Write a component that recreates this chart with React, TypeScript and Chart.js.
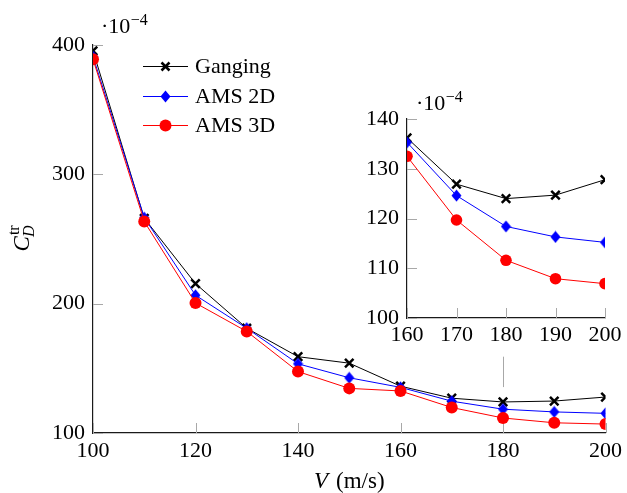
import React, { useEffect, useRef } from "react";
import { Chart, registerables } from "chart.js";

Chart.register(...registerables);

const velocities = [100, 110, 120, 130, 140, 150, 160, 170, 180, 190, 200];
const ganging = [395.5, 266, 215.5, 181, 159, 154, 136.2, 126.9, 124.0, 124.7, 127.8];
const ams2d = [391, 266.5, 206.5, 181, 153.5, 142.7, 135.3, 124.6, 118.4, 116.3, 115.2];
const ams3d = [389, 263.5, 200.5, 178.5, 147.5, 134.5, 132.5, 119.7, 111.6, 107.9, 106.9];
const seriesNames = ["Ganging", "AMS 2D", "AMS 3D"];
const seriesColors = ["#000000", "#0000ff", "#ff0000"];
const mainXTicks = [100, 120, 140, 160, 180, 200];
const mainYTicks = [100, 200, 300, 400];
const insetXTicks = [160, 170, 180, 190, 200];
const insetYTicks = [100, 110, 120, 130, 140];
const insetStart = 160;

const FONT = '"Liberation Serif", "Times New Roman", serif';
const FS = 22;

function makeDiamond(): HTMLCanvasElement {
  const c = document.createElement("canvas");
  c.width = 11;
  c.height = 13;
  const g = c.getContext("2d")!;
  g.fillStyle = "#0000ff";
  g.beginPath();
  g.moveTo(5.5, 0.5);
  g.lineTo(10.5, 6.5);
  g.lineTo(5.5, 12.5);
  g.lineTo(0.5, 6.5);
  g.closePath();
  g.fill();
  return c;
}

function drawTimesTen(ctx: CanvasRenderingContext2D, x: number, baseline: number) {
  ctx.save();
  ctx.fillStyle = "#000";
  ctx.textAlign = "left";
  ctx.textBaseline = "alphabetic";
  ctx.font = `${FS}px ${FONT}`;
  ctx.fillText("·10", x, baseline);
  const w = ctx.measureText("·10").width;
  ctx.font = `16px ${FONT}`;
  ctx.fillText("−4", x + w + 0.5, baseline - 8);
  ctx.restore();
}

function drawInsideTicks(chart: any, xt: number[], yt: number[]) {
  const { ctx, chartArea, scales } = chart;
  const x = scales.x;
  const y = scales.y;
  ctx.save();
  ctx.strokeStyle = "#a8a8a8";
  ctx.lineWidth = 1;
  xt.forEach((v) => {
    const px = Math.round(x.getPixelForValue(v)) + 0.5;
    ctx.beginPath();
    ctx.moveTo(px, chartArea.bottom);
    ctx.lineTo(px, chartArea.bottom - 10);
    ctx.stroke();
  });
  yt.forEach((v) => {
    const py = Math.round(y.getPixelForValue(v)) + 0.5;
    ctx.beginPath();
    ctx.moveTo(chartArea.left, py);
    ctx.lineTo(chartArea.left + 10, py);
    ctx.stroke();
  });
  ctx.restore();
}

function drawLegendMarker(ctx: CanvasRenderingContext2D, i: number, cx: number, cy: number, diamond: HTMLCanvasElement) {
  ctx.save();
  if (i === 0) {
    ctx.strokeStyle = "#000";
    ctx.lineWidth = 2.5;
    ctx.beginPath();
    ctx.moveTo(cx - 4, cy - 4);
    ctx.lineTo(cx + 4, cy + 4);
    ctx.moveTo(cx + 4, cy - 4);
    ctx.lineTo(cx - 4, cy + 4);
    ctx.stroke();
  } else if (i === 1) {
    ctx.drawImage(diamond, cx - diamond.width / 2, cy - diamond.height / 2);
  } else {
    ctx.fillStyle = "#ff0000";
    ctx.beginPath();
    ctx.arc(cx, cy, 6, 0, Math.PI * 2);
    ctx.fill();
  }
  ctx.restore();
}

function buildDatasets(xs: number[], series: number[][], diamond: HTMLCanvasElement, radius: number) {
  const styles: any[] = ["crossRot", diamond, "circle"];
  return series.map((vals, i) => ({
    label: seriesNames[i],
    data: xs.map((v, k) => ({ x: v, y: vals[k] })),
    borderColor: seriesColors[i],
    backgroundColor: seriesColors[i],
    borderWidth: 1,
    pointStyle: styles[i],
    pointRadius: i === 0 ? 6 : radius,
    pointBorderWidth: i === 0 ? 2.5 : 0,
    pointBorderColor: seriesColors[i],
    pointBackgroundColor: seriesColors[i],
    order: 3 - i,
    tension: 0,
  }));
}

function axisOpts(min: number, max: number, step: number, fixed: (s: any) => void, padding: number) {
  return {
    type: "linear" as const,
    min,
    max,
    ticks: {
      stepSize: step,
      color: "#000",
      font: { family: FONT, size: FS },
      padding,
      maxRotation: 0,
      autoSkip: false,
    },
    grid: { display: false, drawTicks: false },
    border: { display: true, color: "#1a1a1a", width: 1.2 },
    afterFit: fixed,
  };
}

export default function App() {
  const mainRef = useRef<HTMLCanvasElement>(null);
  const insetRef = useRef<HTMLCanvasElement>(null);

  useEffect(() => {
    const diamond = makeDiamond();

    const mainPlugin = {
      id: "mainDecor",
      beforeDatasetsDraw(chart: any) {
        drawInsideTicks(chart, mainXTicks, mainYTicks);
        const { ctx, scales } = chart;
        const px = Math.round(scales.x.getPixelForValue(180)) + 0.5;
        ctx.save();
        ctx.strokeStyle = "#a8a8a8";
        ctx.lineWidth = 1;
        ctx.beginPath();
        ctx.moveTo(px, scales.y.getPixelForValue(159));
        ctx.lineTo(px, scales.y.getPixelForValue(135.5));
        ctx.stroke();
        ctx.restore();
      },
      afterDraw(chart: any) {
        const { ctx, chartArea } = chart;
        drawTimesTen(ctx, 101, 33);
        // x title
        ctx.save();
        ctx.fillStyle = "#000";
        ctx.textBaseline = "alphabetic";
        ctx.font = `italic 23px ${FONT}`;
        const vW = ctx.measureText("V").width;
        ctx.font = `23px ${FONT}`;
        const rest = "(m/s)";
        const rW = ctx.measureText(rest).width;
        const gap = 8;
        const cx = (chartArea.left + chartArea.right) / 2;
        const startX = cx - (vW + gap + rW) / 2;
        ctx.font = `italic 23px ${FONT}`;
        ctx.fillText("V", startX, 488);
        ctx.font = `23px ${FONT}`;
        ctx.fillText(rest, startX + vW + gap, 488);
        ctx.restore();
        // y title
        ctx.save();
        ctx.translate(29, 238);
        ctx.rotate(-Math.PI / 2);
        ctx.fillStyle = "#000";
        ctx.textBaseline = "alphabetic";
        ctx.font = `italic 23px ${FONT}`;
        const cW = ctx.measureText("C").width;
        ctx.font = `16px ${FONT}`;
        const trW = ctx.measureText("tr").width;
        ctx.font = `italic 16px ${FONT}`;
        const dW = ctx.measureText("D").width;
        const total = cW + Math.max(trW, dW);
        const sx = -total / 2;
        ctx.font = `italic 23px ${FONT}`;
        ctx.fillText("C", sx, 0);
        ctx.font = `16px ${FONT}`;
        ctx.fillText("tr", sx + cW + 1, -10);
        ctx.font = `italic 16px ${FONT}`;
        ctx.fillText("D", sx + cW - 1, 5);
        ctx.restore();
        // legend
        const rowY = [66, 96, 125];
        ctx.save();
        seriesNames.forEach((name, i) => {
          const y = rowY[i];
          ctx.strokeStyle = seriesColors[i];
          ctx.lineWidth = 1;
          ctx.beginPath();
          ctx.moveTo(143, y + 0.5);
          ctx.lineTo(188, y + 0.5);
          ctx.stroke();
          drawLegendMarker(ctx, i, 165.5, y + 0.5, diamond);
          ctx.fillStyle = "#000";
          ctx.font = `${FS}px ${FONT}`;
          ctx.textBaseline = "alphabetic";
          ctx.fillText(name, 195, y + 7);
        });
        ctx.restore();
      },
    };

    const main = new Chart(mainRef.current!, {
      type: "line",
      data: {
        datasets: buildDatasets(velocities, [ganging, ams2d, ams3d], diamond, 6) as any,
      },
      options: {
        responsive: false,
        animation: false,
        devicePixelRatio: 1,
        layout: { padding: { left: 0, right: 19, top: 45, bottom: 0 } },
        plugins: { legend: { display: false }, tooltip: { enabled: false } },
        scales: {
          x: axisOpts(100, 200, 20, (s: any) => { s.height = 60; }, 5) as any,
          y: axisOpts(100, 400, 100, (s: any) => { s.width = 93; }, 8) as any,
        },
      },
      plugins: [mainPlugin],
    });

    const startIdx = velocities.indexOf(insetStart);
    const ix = velocities.slice(startIdx);
    const insetPlugin = {
      id: "insetDecor",
      beforeDatasetsDraw(chart: any) {
        drawInsideTicks(chart, insetXTicks, insetYTicks);
      },
      afterDraw(chart: any) {
        drawTimesTen(chart.ctx, 416 - 340, 110 - 85);
      },
    };
    const inset = new Chart(insetRef.current!, {
      type: "line",
      data: {
        datasets: buildDatasets(
          ix,
          [ganging.slice(startIdx), ams2d.slice(startIdx), ams3d.slice(startIdx)],
          diamond,
          5.8
        ) as any,
      },
      options: {
        responsive: false,
        animation: false,
        devicePixelRatio: 1,
        layout: { padding: { left: 0, right: 22, top: 34, bottom: 0 } },
        plugins: { legend: { display: false }, tooltip: { enabled: false } },
        scales: {
          x: axisOpts(160, 200, 10, (s: any) => { s.height = 47; }, 4) as any,
          y: axisOpts(100, 140, 10, (s: any) => { s.width = 67; }, 8) as any,
        },
      },
      plugins: [insetPlugin],
    });

    return () => {
      main.destroy();
      inset.destroy();
    };
  }, []);

  return (
    <div style={{ position: "absolute", left: 0, top: 0, width: 627, height: 493, background: "#fff" }}>
      <canvas ref={mainRef} width={627} height={493} style={{ position: "absolute", left: 0, top: 0 }} />
      <canvas ref={insetRef} width={287} height={280} style={{ position: "absolute", left: 340, top: 85 }} />
    </div>
  );
}
